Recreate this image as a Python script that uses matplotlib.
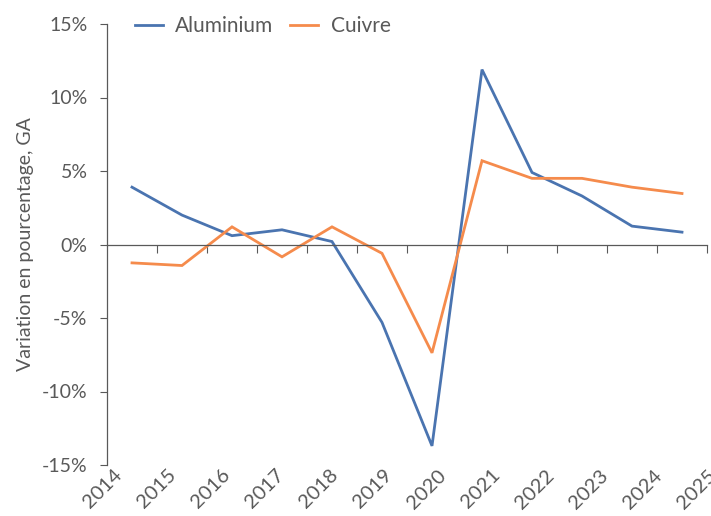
import numpy as np
import matplotlib
matplotlib.use("Agg")
import matplotlib.pyplot as plt
from matplotlib.ticker import FuncFormatter

plt.rcParams['font.family'] = ['Lato', 'DejaVu Sans']

# ------------------------------------------------------------
# Données (variation annuelle, %)
# ------------------------------------------------------------
years = ["2014", "2015", "2016", "2017", "2018", "2019",
         "2020", "2021", "2022", "2023", "2024", "2025"]
aluminium = [3.9, 2.0, 0.6, 1.0, 0.2, -5.3, -13.7, 11.9, 4.9, 3.3, 1.25, 0.84]
cuivre = [-1.25, -1.43, 1.2, -0.84, 1.2, -0.6, -7.37, 5.7, 4.5, 4.5, 3.9, 3.47]

BLUE = "#4a74b0"
ORANGE = "#f58b4c"
GREY = "#595959"

fig = plt.figure(figsize=(7.11, 5.16), dpi=100)
ax = fig.add_axes([107 / 711, 51 / 516, 600 / 711, 441 / 516])

x = np.arange(len(years))
ax.plot(x, aluminium, color=BLUE, lw=2.0, label="Aluminium", solid_joinstyle="miter")
ax.plot(x, cuivre, color=ORANGE, lw=2.0, label="Cuivre", solid_joinstyle="miter")

ax.set_xlim(-0.5, len(years) - 0.5)
ax.set_ylim(-15, 15)
ax.set_yticks(np.arange(-15, 16, 5))
ax.yaxis.set_major_formatter(FuncFormatter(lambda v, p: f"{v:.0f}%"))

# axe horizontal à 0 avec graduations entre catégories
ax.spines['bottom'].set_position(('data', 0))
ax.spines['top'].set_visible(False)
ax.spines['right'].set_visible(False)
for s in ('bottom', 'left'):
    ax.spines[s].set_color(GREY)
    ax.spines[s].set_linewidth(0.9)
ax.set_xticks(np.arange(0.5, len(years), 1.0))
ax.tick_params(axis='x', direction='out', length=6, color=GREY, labelbottom=False)
ax.tick_params(axis='y', direction='out', length=5, color=GREY,
               labelcolor=GREY, labelsize=14, pad=9)
ax.set_ylabel("Variation en pourcentage, GA", color=GREY, fontsize=14, labelpad=6)

# étiquettes des années (axe secondaire en bas)
ax2 = ax.twiny()
ax2.set_xlim(-0.1105, -0.1105 + 11.05)
ax2.set_xticks(x)
ax2.set_xticklabels(years, rotation=45, ha='right', va='top',
                    rotation_mode='anchor', color=GREY, fontsize=14.5)
ax2.xaxis.set_ticks_position('bottom')
ax2.xaxis.set_label_position('bottom')
ax2.tick_params(axis='x', length=0, pad=1)
for s in ax2.spines.values():
    s.set_visible(False)

leg = ax.legend(loc='upper left', bbox_to_anchor=(0.015, 1.06), ncol=2,
                frameon=False, fontsize=15, handlelength=1.35,
                columnspacing=0.8, handletextpad=0.6)
for t in leg.get_texts():
    t.set_color(GREY)

fig.savefig("out.png", dpi=100)
